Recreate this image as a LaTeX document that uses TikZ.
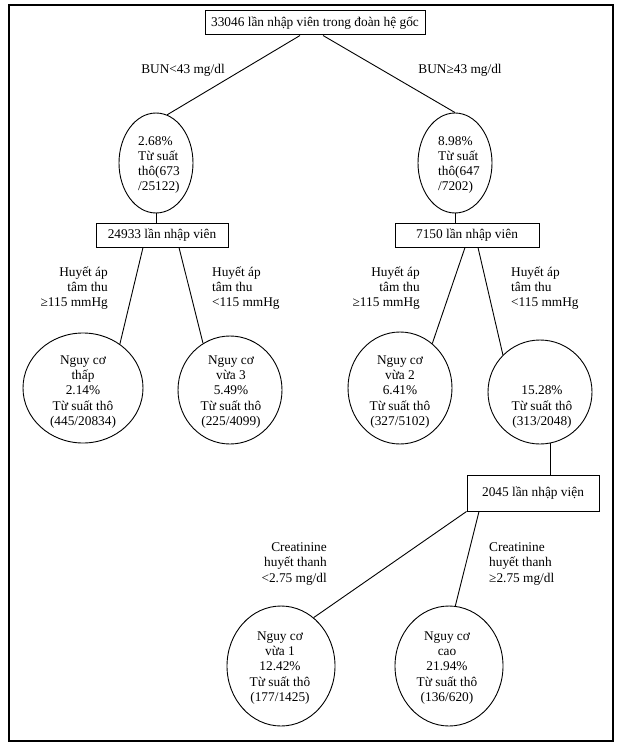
\documentclass[tikz,border=0pt]{standalone}
\usepackage{fontspec}
\setmainfont{Liberation Serif}
\usetikzlibrary{shapes.geometric}
\begin{document}
\begin{tikzpicture}[x=1pt,y=-1pt,
  base/.style={font=\fontsize{13.33}{15.3}\selectfont},
  ell/.style={draw, ellipse, line width=0.9pt, inner sep=0pt},
  boxn/.style={draw, line width=1pt, inner sep=0pt, base},
  lbl/.style={inner sep=0pt, base},
  conn/.style={line width=0.9pt}]
\useasboundingbox (0,0) rectangle (631,743);
\draw[line width=2pt] (9,5) rectangle (613,741);

% boxes
\node[boxn, minimum width=220pt, minimum height=24pt] (top) at (315,23) {33046 lần nhập viên trong đoàn hệ gốc};
\node[boxn, minimum width=132pt, minimum height=24pt] (b1) at (162,235) {24933 lần nhập viên};
\node[boxn, minimum width=144pt, minimum height=24pt] (b2) at (467,235) {7150 lần nhập viên};
\node[boxn, minimum width=132pt, minimum height=36pt] (b3) at (533,493) {2045 lần nhập viện};

% ellipses
\node[ell, minimum width=74pt, minimum height=100pt] (c1) at (156,163) {};
\node[ell, minimum width=74pt, minimum height=100pt] (c2) at (455,163) {};
\node[ell, minimum width=120pt, minimum height=110pt] (A) at (83,388) {};
\node[ell, minimum width=104pt, minimum height=108pt] (B) at (230,390) {};
\node[ell, minimum width=104pt, minimum height=112pt] (C) at (400,388) {};
\node[ell, minimum width=104pt, minimum height=104pt] (D) at (540,392) {};
\node[ell, minimum width=108pt, minimum height=120pt] (E) at (281,666) {};
\node[ell, minimum width=108pt, minimum height=120pt] (F) at (449,666) {};

% texts in ellipses
\node[lbl, align=left, anchor=west] (t1) at (138,165) {2.68\%\\Từ suất\\thô(673\\/25122)};
\node[lbl, align=left, anchor=west] (t2) at (438,165) {8.98\%\\Từ suất\\thô(647\\/7202)};
\node[lbl, align=center] (tA) at (83,392) {Nguy cơ\\thấp\\2.14\%\\Từ suất thô\\(445/20834)};
\node[lbl, align=center] (tB) at (231,392) {Nguy cơ\\vừa 3\\5.49\%\\Từ suất thô\\(225/4099)};
\node[lbl, align=center] (tC) at (400,392) {Nguy cơ\\vừa 2\\6.41\%\\Từ suất thô\\(327/5102)};
\node[lbl, align=center] (tD) at (542,407) {15.28\%\\Từ suất thô\\(313/2048)};
\node[lbl, align=center] (tE) at (280,668) {Nguy cơ\\vừa 1\\12.42\%\\Từ suất thô\\(177/1425)};
\node[lbl, align=center] (tF) at (447,668) {Nguy cơ\\cao\\21.94\%\\Từ suất thô\\(136/620)};

% edge labels
\node[lbl] (l1) at (183,70) {BUN<43 mg/dl};
\node[lbl] (l2) at (460,70) {BUN≥43 mg/dl};
\node[lbl, align=right, anchor=east] (l3) at (108,288) {Huyết áp\\tâm thu\\≥115 mmHg};
\node[lbl, align=left, anchor=west] (l4) at (212,288) {Huyết áp\\tâm thu\\<115 mmHg};
\node[lbl, align=right, anchor=east] (l5) at (420,288) {Huyết áp\\tâm thu\\≥115 mmHg};
\node[lbl, align=left, anchor=west] (l6) at (511,288) {Huyết áp\\tâm thu\\<115 mmHg};
\node[lbl, align=right, anchor=east] (l7) at (327,564) {Creatinine\\huyết thanh\\<2.75 mg/dl};
\node[lbl, align=left, anchor=west] (l8) at (489,564) {Creatinine\\huyết thanh\\≥2.75 mg/dl};

% connectors
\draw[conn] ([xshift=-15pt]top.south) -- (c1.77);
\draw[conn] ([xshift=8pt]top.south) -- (c2.90);
\draw[conn] (c1.south) -- (c1.south |- b1.north);
\draw[conn] (c2.south) -- (c2.south |- b2.north);
\draw[conn] ([xshift=-19pt]b1.south) -- (A.50);
\draw[conn] ([xshift=17pt]b1.south) -- (B.120);
\draw[conn] ([xshift=-2pt]b2.south) -- (C.54);
\draw[conn] ([xshift=11pt]b2.south) -- (D.135);
\draw[conn] (D.-78) -- (D.-78 |- b3.north);
\draw[conn] (b3.south west) -- (E.56);
\draw[conn] ([xshift=-54pt]b3.south) -- (F.84);
\end{tikzpicture}
\end{document}
